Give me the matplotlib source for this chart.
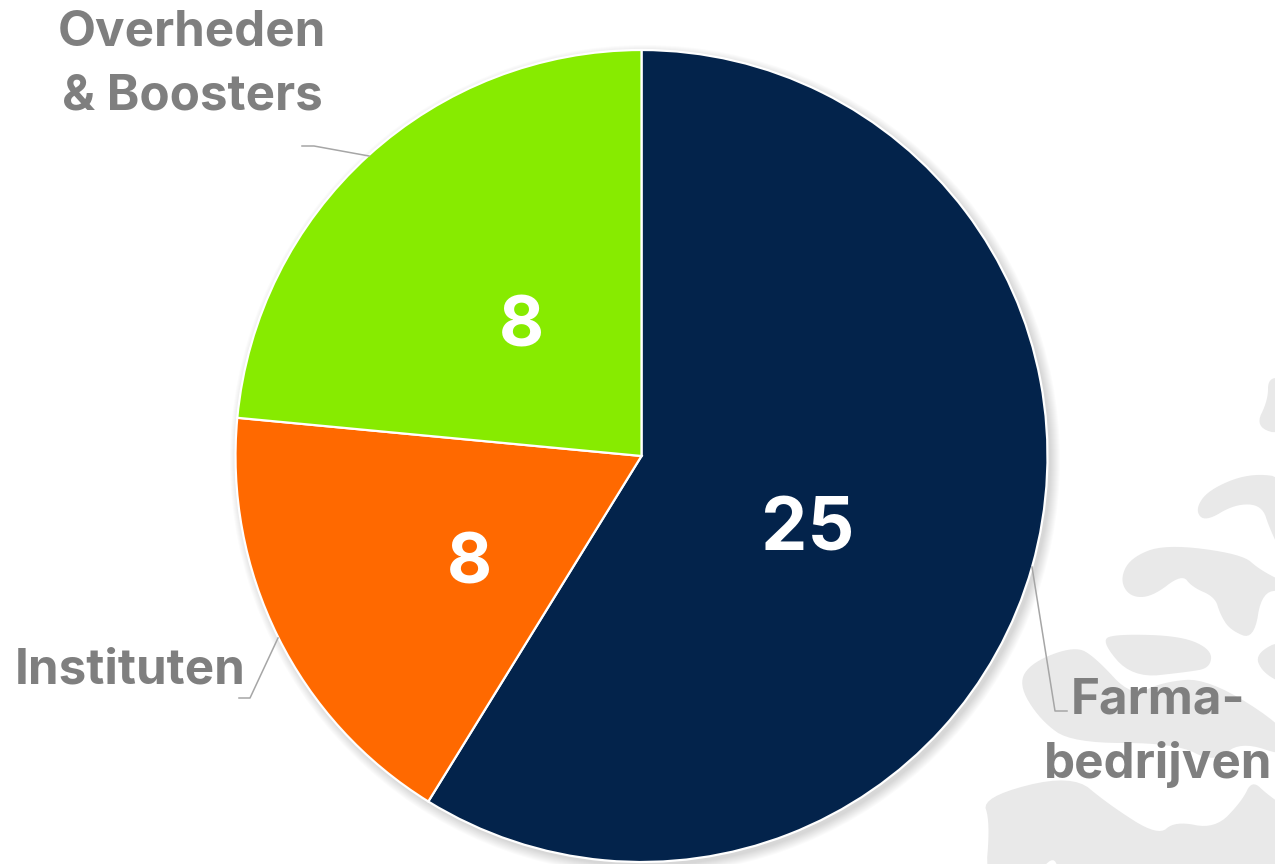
import matplotlib
matplotlib.use('Agg')
import matplotlib.pyplot as plt
from matplotlib.patches import Circle, Polygon

shares = [58.8, 17.7, 23.5]
counts = ['25', '8', '8']
names = ['Farma-\nbedrijven', 'Instituten', 'Overheden\n& Boosters']
colors = ['#03234b', '#ff6900', '#87eb00']

W, H = 1275, 864


def flip(pts):
    # pixels van boven naar beneden -> as-coordinaten
    return [(x, H - y) for x, y in pts]


def smooth(pts, n=3):
    # hoeken afsnijden zodat de kaart er rond uitziet
    for _ in range(n):
        new = []
        for i in range(len(pts)):
            a = pts[i]
            b = pts[(i + 1) % len(pts)]
            new.append((0.75 * a[0] + 0.25 * b[0], 0.75 * a[1] + 0.25 * b[1]))
            new.append((0.25 * a[0] + 0.75 * b[0], 0.25 * a[1] + 0.75 * b[1]))
        pts = new
    return pts


plt.rcParams['font.family'] = ['Inter', 'Liberation Sans', 'DejaVu Sans']
fig = plt.figure(figsize=(W / 100, H / 100), dpi=100)
ax = fig.add_axes([0, 0, 1, 1])

# kaart op de achtergrond
blobs = [
    [(1268, 378), (1285, 378), (1285, 436), (1255, 427), (1268, 400)],
    [(1195, 510), (1208, 490), (1249, 473), (1290, 478), (1290, 570), (1270, 530), (1262, 505), (1235, 504), (1205, 522)],
    [(1120, 580), (1130, 558), (1165, 544), (1242, 554), (1260, 570), (1290, 585), (1290, 592), (1262, 590), (1254, 640),
     (1230, 630), (1220, 614), (1215, 597), (1192, 587), (1182, 574), (1152, 597), (1130, 597)],
    [(1100, 640), (1118, 634), (1182, 636), (1212, 650), (1210, 668), (1188, 672), (1132, 678)],
    [(1018, 684), (1032, 662), (1075, 646), (1095, 657), (1132, 697), (1162, 682), (1208, 678), (1290, 730), (1290, 758),
     (1240, 741), (1215, 763), (1175, 743), (1072, 743), (1040, 720)],
    [(1255, 654), (1285, 638), (1285, 685), (1262, 672)],
    [(982, 797), (1072, 774), (1108, 804), (1158, 836), (1175, 821), (1215, 829), (1242, 801), (1252, 780), (1268, 795),
     (1290, 810), (1290, 885), (1060, 885), (1055, 852), (1030, 885), (985, 885), (990, 822)],
]
for b in blobs:
    ax.add_patch(Polygon(flip(smooth(b)), closed=True, facecolor='#e9e9e9', edgecolor='none', zorder=1))

# zachte schaduw
for k in range(10):
    ax.add_patch(Circle((645, H - 460), 405 + 10 - k, facecolor='#000000', edgecolor='none', alpha=0.014, zorder=2))

wedges, _ = ax.pie(shares, colors=colors, startangle=90, counterclock=False,
                   center=(641.5, H - 456), radius=406, frame=True,
                   wedgeprops={'edgecolor': 'white', 'linewidth': 1.6})
for w in wedges:
    w.set_zorder(3)

ax.set_xlim(0, W)
ax.set_ylim(0, H)
ax.set_aspect('equal')
ax.axis('off')

# getallen
bold = {'fontweight': 'bold', 'ha': 'center', 'va': 'center', 'zorder': 6}
ax.text(808, H - 531, counts[0], color='white', fontsize=53, **bold)
ax.text(469, H - 565, counts[1], color='white', fontsize=50, **bold)
ax.text(521, H - 328, counts[2], color='white', fontsize=50, **bold)

# namen
lab = {'color': '#7f7f7f', 'fontweight': 'bold', 'ha': 'center', 'va': 'center', 'zorder': 6, 'fontsize': 35.5}
farma, bedrijven = names[0].split('\n')
overheden, boosters = names[2].split('\n')
ax.text(1158, H - 700, farma, **lab)
ax.text(1158, H - 764, bedrijven, **lab)
ax.text(130, H - 671, names[1], **lab)
ax.text(192, H - 32, overheden, **lab)
ax.text(192, H - 97, boosters, **lab)

# hulplijnen
leaders = [
    [(1032, 567), (1055, 711), (1067, 711)],
    [(278, 638), (250, 698), (239, 698)],
    [(369, 156), (314, 146), (302, 146)],
]
for l in leaders:
    xs, ys = zip(*flip(l))
    ax.plot(xs, ys, color='#a6a6a6', lw=1.1, zorder=5)

fig.savefig('out.png', dpi=100)
